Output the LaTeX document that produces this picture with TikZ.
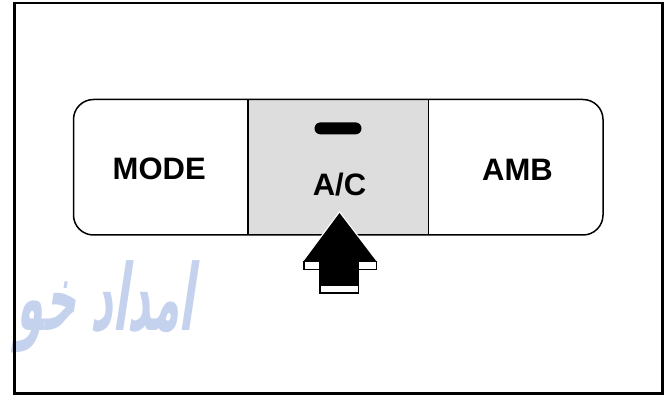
\documentclass[tikz,border=0pt]{standalone}
\usepackage{fontspec}
\setmainfont{Liberation Sans}
\newfontfamily\arabicfont[Script=Arabic]{DejaVu Sans}
\TeXXeTstate=1
\definecolor{wmblue}{RGB}{197,210,238}
\definecolor{keygray}{RGB}{221,221,221}
\begin{document}
\begin{tikzpicture}[x=1pt,y=-1pt,
  keylabel/.style={font=\bfseries\fontsize{31}{31}\selectfont, inner sep=0pt, anchor=base},
  outline/.style={draw=black, line width=1.5pt}]
\useasboundingbox (0,0) rectangle (667,395);
% watermark
\node[anchor=base east, text=wmblue, inner sep=0pt, xslant=0.15,
      font=\arabicfont\bfseries\fontsize{92}{92}\selectfont] (wm) at (194,331)
      {\scalebox{0.47}[1]{\beginR امداد خو\endR}};
% outer frame
\draw[line width=2.5pt] (14.3,2.9) rectangle (662.3,393.6);
% key panel
\fill[keygray] (248,99.5) rectangle (428.5,235);
\draw[outline, rounded corners=20pt] (73.5,99.5) rectangle (603,235);
\draw[outline] (248,99.5) -- (248,235);
\draw[outline] (428.5,99.5) -- (428.5,235);
% labels
\node[keylabel] (mode) at (159.2,180) {MODE};
\node[keylabel] (ac) at (339.5,195.5) {A/C};
\node[keylabel] (amb) at (517.5,181) {AMB};
% indicator
\node[fill=black, rounded corners=6pt, minimum width=47pt, minimum height=12pt, inner sep=0pt] (pill) at (338,128.4) {};
% arrow
\draw[white, line width=2.5pt, line join=miter] (303.5,261.5) -- (339.5,213) -- (376.5,261.5);
\fill[black] (303.5,261.5) -- (339.5,213) -- (376.5,261.5) -- cycle;
\fill[black] (319,261) rectangle (359,286);
\filldraw[fill=white, draw=black, line width=1.5pt] (303.8,261.5) rectangle (320,269.5);
\filldraw[fill=white, draw=black, line width=1.5pt] (358,261.5) rectangle (376.5,269.5);
\filldraw[fill=white, draw=black, line width=1.5pt] (320,285) rectangle (358.5,293);
\end{tikzpicture}
\end{document}
